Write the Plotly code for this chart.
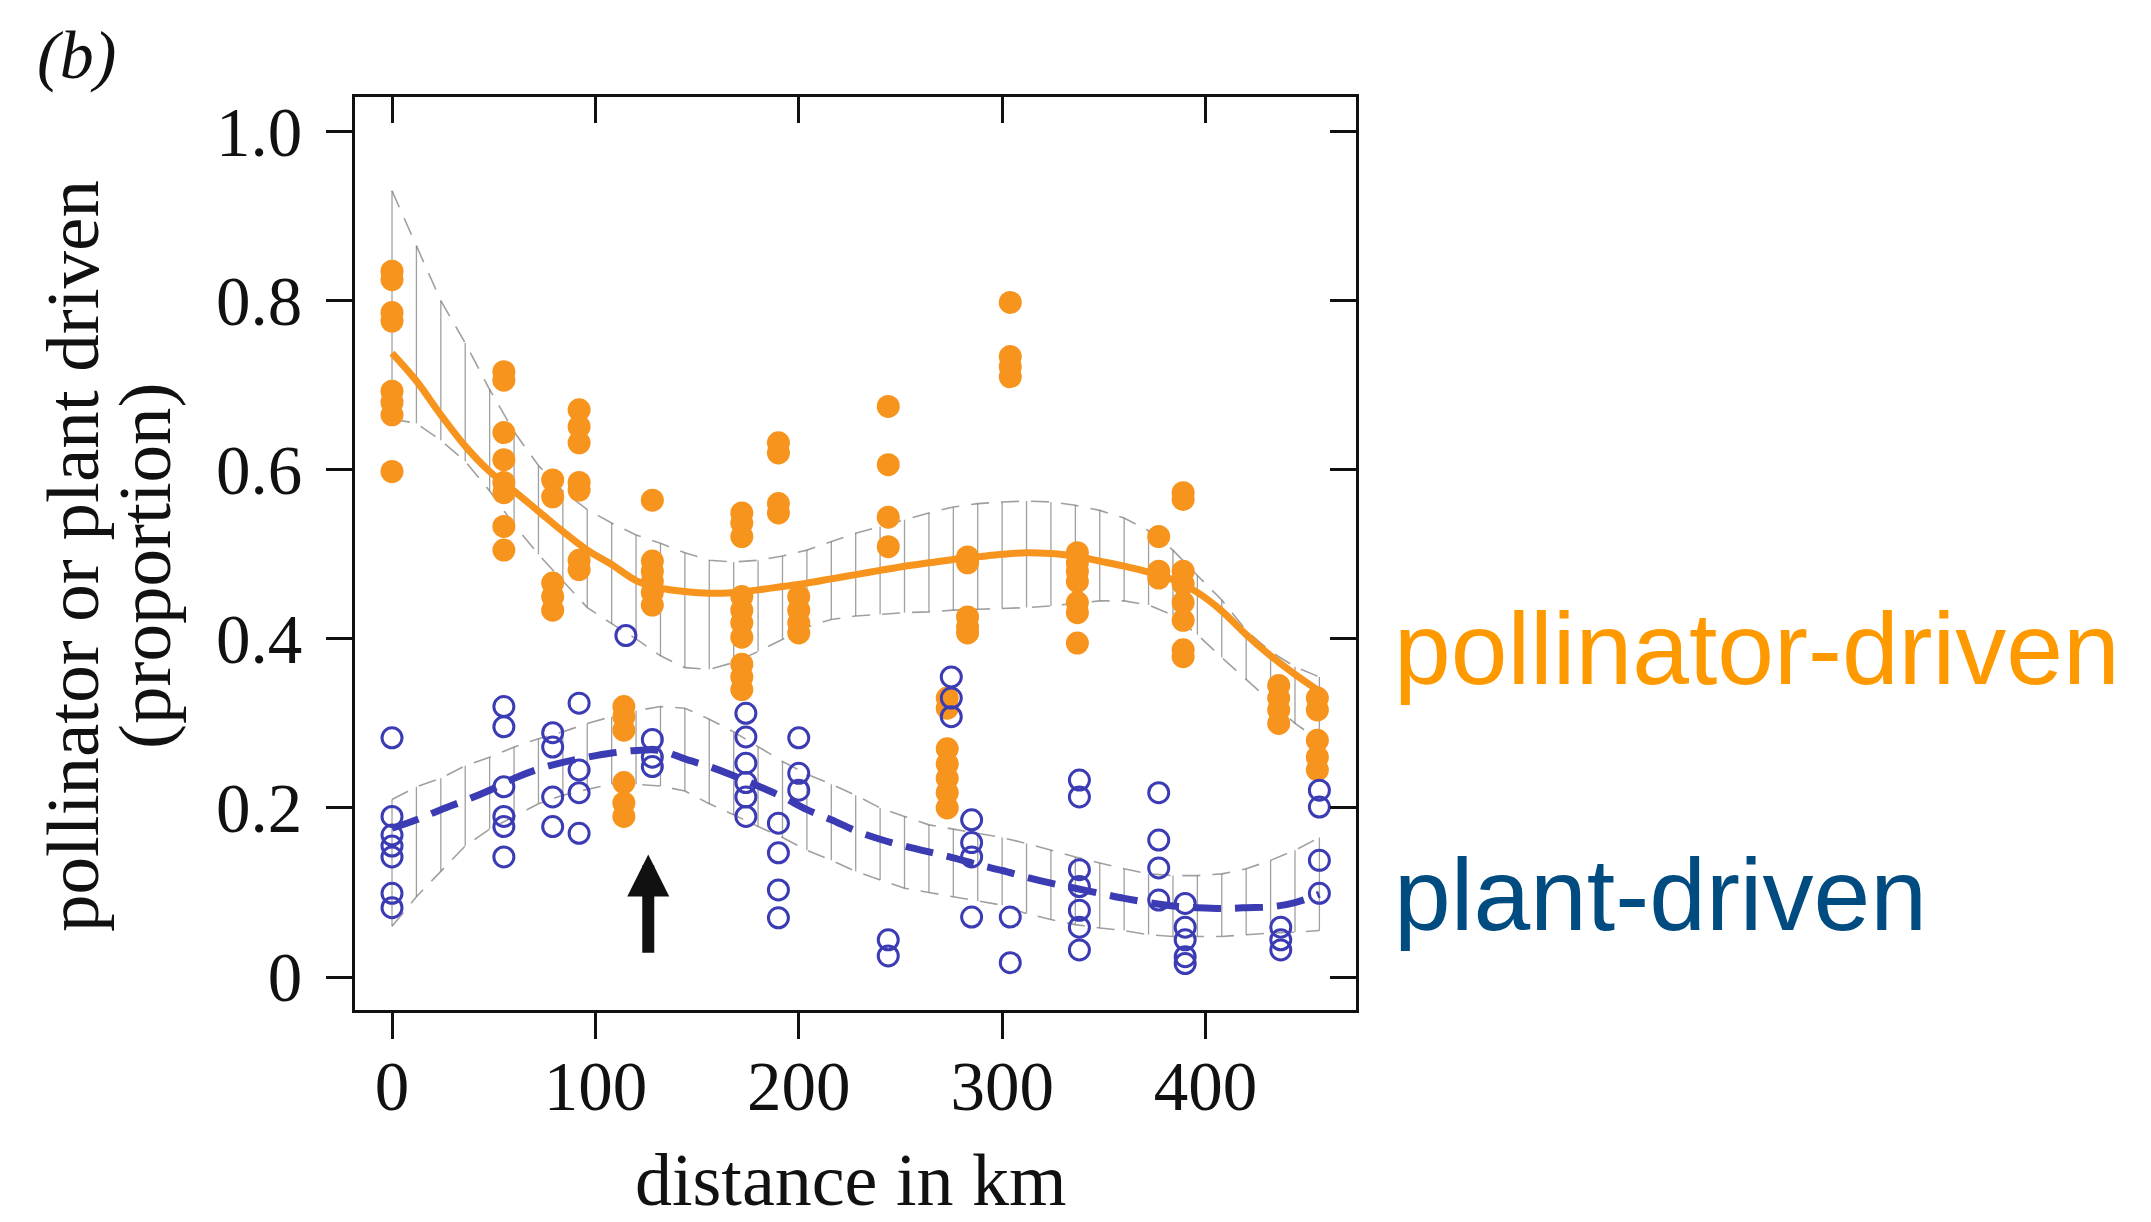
import plotly.graph_objects as go

# ---------------- data ----------------
grid_km = [0, 12, 24, 36, 48, 60, 72, 84, 96, 108, 120, 132, 144, 156, 168, 180, 192,
           204, 216, 228, 240, 252, 264, 276, 288, 300, 312, 324, 336, 348, 360, 372,
           384, 396, 408, 420, 432, 444, 456]

poll_fit = [0.738, 0.705, 0.665, 0.628, 0.598, 0.575, 0.551, 0.527, 0.505, 0.488, 0.469,
            0.460, 0.456, 0.454, 0.455, 0.458, 0.462, 0.466, 0.471, 0.476, 0.481, 0.486,
            0.490, 0.494, 0.497, 0.500, 0.502, 0.501, 0.498, 0.492, 0.486, 0.479, 0.470,
            0.455, 0.433, 0.405, 0.380, 0.358, 0.338]
poll_hi = [0.930, 0.865, 0.800, 0.750, 0.695, 0.645, 0.605, 0.575, 0.553, 0.537, 0.523,
           0.513, 0.502, 0.493, 0.491, 0.493, 0.498, 0.505, 0.515, 0.525, 0.533, 0.541,
           0.549, 0.556, 0.560, 0.562, 0.563, 0.562, 0.558, 0.552, 0.543, 0.528, 0.505,
           0.475, 0.446, 0.410, 0.385, 0.367, 0.355]
poll_lo = [0.660, 0.655, 0.635, 0.610, 0.575, 0.535, 0.500, 0.468, 0.437, 0.418, 0.400,
           0.380, 0.366, 0.364, 0.372, 0.385, 0.400, 0.414, 0.423, 0.427, 0.429, 0.431,
           0.432, 0.434, 0.435, 0.436, 0.437, 0.439, 0.442, 0.445, 0.445, 0.440, 0.428,
           0.405, 0.378, 0.352, 0.325, 0.300, 0.280]

plant_fit = [0.176, 0.186, 0.198, 0.209, 0.221, 0.235, 0.246, 0.254, 0.260, 0.265, 0.268,
             0.268, 0.258, 0.249, 0.238, 0.226, 0.213, 0.198, 0.186, 0.173, 0.163, 0.155,
             0.148, 0.141, 0.133, 0.126, 0.118, 0.111, 0.105, 0.099, 0.093, 0.088, 0.084,
             0.082, 0.081, 0.082, 0.083, 0.088, 0.098]
plant_hi = [0.210, 0.225, 0.235, 0.250, 0.260, 0.272, 0.282, 0.290, 0.300, 0.308, 0.315,
            0.320, 0.318, 0.305, 0.290, 0.272, 0.255, 0.240, 0.228, 0.215, 0.200, 0.190,
            0.180, 0.175, 0.170, 0.165, 0.158, 0.150, 0.142, 0.135, 0.128, 0.122, 0.120,
            0.120, 0.122, 0.128, 0.138, 0.150, 0.165]
plant_lo = [0.060, 0.095, 0.125, 0.155, 0.175, 0.190, 0.205, 0.215, 0.222, 0.228, 0.228,
            0.226, 0.220, 0.205, 0.192, 0.178, 0.165, 0.150, 0.138, 0.125, 0.115, 0.105,
            0.100, 0.095, 0.090, 0.085, 0.075, 0.068, 0.062, 0.058, 0.055, 0.050, 0.048,
            0.048, 0.048, 0.050, 0.052, 0.053, 0.055]

poll_sites = [0, 55, 79, 92, 114, 128, 172, 190, 200, 244, 273, 283, 304, 337, 377, 389, 436, 455]
poll_values = [
    [0.835, 0.825, 0.786, 0.776, 0.693, 0.680, 0.665, 0.598],
    [0.716, 0.706, 0.644, 0.612, 0.585, 0.573, 0.533, 0.505],
    [0.588, 0.568, 0.466, 0.450, 0.434],
    [0.671, 0.651, 0.632, 0.585, 0.576, 0.493, 0.482],
    [0.320, 0.308, 0.292, 0.230, 0.206, 0.190],
    [0.564, 0.492, 0.480, 0.468, 0.455, 0.440],
    [0.549, 0.537, 0.521, 0.450, 0.434, 0.419, 0.402, 0.370, 0.355, 0.340],
    [0.632, 0.620, 0.560, 0.549],
    [0.450, 0.434, 0.419, 0.407],
    [0.675, 0.606, 0.544, 0.509],
    [0.330, 0.318, 0.270, 0.252, 0.235, 0.218, 0.200],
    [0.497, 0.490, 0.426, 0.414, 0.407],
    [0.798, 0.734, 0.722, 0.710],
    [0.502, 0.490, 0.480, 0.468, 0.443, 0.431, 0.395],
    [0.521, 0.480, 0.472],
    [0.573, 0.565, 0.480, 0.465, 0.443, 0.422, 0.387, 0.379],
    [0.345, 0.330, 0.316, 0.300],
    [0.330, 0.316, 0.280, 0.260, 0.245],
]

plant_sites = [0, 55, 79, 92, 115, 128, 174, 190, 200, 244, 275, 285, 304, 338, 377, 390, 437, 456]
plant_values = [
    [0.283, 0.190, 0.168, 0.155, 0.142, 0.099, 0.082],
    [0.320, 0.296, 0.225, 0.190, 0.178, 0.142],
    [0.289, 0.272, 0.213, 0.178],
    [0.324, 0.245, 0.218, 0.170],
    [0.404],
    [0.281, 0.260, 0.249],
    [0.312, 0.284, 0.253, 0.230, 0.213, 0.190],
    [0.182, 0.147, 0.103, 0.070],
    [0.283, 0.241, 0.221],
    [0.044, 0.025],
    [0.355, 0.330, 0.308],
    [0.186, 0.159, 0.142, 0.071],
    [0.071, 0.017],
    [0.233, 0.213, 0.127, 0.107, 0.079, 0.059, 0.032],
    [0.218, 0.162, 0.129, 0.091],
    [0.087, 0.059, 0.044, 0.024, 0.016],
    [0.059, 0.044, 0.032],
    [0.221, 0.201, 0.138, 0.099],
]

x_ticks = [0, 100, 200, 300, 400]
x_tick_text = ["0", "100", "200", "300", "400"]
y_ticks = [0, 0.2, 0.4, 0.6, 0.8, 1.0]
y_tick_text = ["0", "0.2", "0.4", "0.6", "0.8", "1.0"]

arrow_km = 126
arrow_tip = 0.145
arrow_tail = 0.027

# ---------------- styling ----------------
W, H = 2151, 1222
L, R, T, B = 355, 1356, 97, 1010      # plot area in pixels
X_RANGE = [-18.2, 474]
Y_RANGE = [-0.039, 1.041]
SERIF = "Liberation Serif, Times New Roman, serif"
SANS = "Liberation Sans, Arial, Helvetica, sans-serif"
ORANGE = "#F7941D"
BLUE = "#3B3BB4"
BAND = "rgba(120,120,120,0.7)"


def px_to_paper(px, py):
    return (px - L) / (R - L), (B - py) / (B - T)


def flatten(sites, values):
    xs, ys = [], []
    for s, vals in zip(sites, values):
        for v in vals:
            xs.append(s)
            ys.append(v)
    return xs, ys


def hatch(xs, lo, hi):
    hx, hy = [], []
    for x, a, b in zip(xs, lo, hi):
        hx += [x, x, None]
        hy += [a, b, None]
    return hx, hy


fig = go.Figure()

# confidence bands (vertical hatching + dashed bounds)
for lo, hi in [(poll_lo, poll_hi), (plant_lo, plant_hi)]:
    hx, hy = hatch(grid_km, lo, hi)
    fig.add_trace(go.Scatter(x=hx, y=hy, mode="lines", line=dict(color=BAND, width=1.3),
                             hoverinfo="skip", showlegend=False))
    for bound in (lo, hi):
        fig.add_trace(go.Scatter(x=grid_km, y=bound, mode="lines",
                                 line=dict(color=BAND, width=1.6, dash="18px,12px"),
                                 hoverinfo="skip", showlegend=False))

# points
px_, py_ = flatten(poll_sites, poll_values)
fig.add_trace(go.Scatter(x=px_, y=py_, mode="markers", name="pollinator-driven",
                         marker=dict(color=ORANGE, size=23, line=dict(width=0)),
                         showlegend=False))
bx_, by_ = flatten(plant_sites, plant_values)
fig.add_trace(go.Scatter(x=bx_, y=by_, mode="markers", name="plant-driven",
                         marker=dict(symbol="circle-open", color=BLUE, size=20,
                                     line=dict(width=3, color=BLUE)),
                         showlegend=False))

# fitted curves
fig.add_trace(go.Scatter(x=grid_km, y=poll_fit, mode="lines",
                         line=dict(color=ORANGE, width=7, shape="spline"),
                         showlegend=False))
fig.add_trace(go.Scatter(x=grid_km, y=plant_fit, mode="lines",
                         line=dict(color=BLUE, width=7, dash="28px,14px", shape="spline"),
                         showlegend=False))

# dummy trace for mirrored (inside) tick axes
fig.add_trace(go.Scatter(x=[None], y=[None], xaxis="x2", yaxis="y2",
                         showlegend=False, hoverinfo="skip"))

axis_common = dict(showgrid=False, zeroline=False,
                   tickfont=dict(family=SERIF, size=69, color="#111"),
                   ticklen=26, tickwidth=2.5, tickcolor="#111")

fig.update_layout(
    width=W, height=H,
    margin=dict(l=L, r=W - R, t=T, b=H - B, pad=0),
    paper_bgcolor="white", plot_bgcolor="white",
    showlegend=False,
    xaxis=dict(range=X_RANGE, tickvals=x_ticks, ticktext=x_tick_text, ticks="outside",
               showline=True, linewidth=3, linecolor="#111", mirror=True,
               ticklabelstandoff=-12, **axis_common),
    yaxis=dict(range=Y_RANGE, tickvals=y_ticks, ticktext=y_tick_text, ticks="outside",
               showline=True, linewidth=3, linecolor="#111", mirror=True,
               ticklabelstandoff=10, **axis_common),
    xaxis2=dict(range=X_RANGE, tickvals=x_ticks, ticks="inside", overlaying="x",
                side="top", anchor="y", showticklabels=False, showline=False,
                **axis_common),
    yaxis2=dict(range=Y_RANGE, tickvals=y_ticks, ticks="inside", overlaying="y",
                side="right", anchor="x", showticklabels=False, showline=False,
                **axis_common),
)

annotations = []


def add_text(text, px, py, font, xanchor="center", yanchor="middle", angle=0):
    ax_, ay_ = px_to_paper(px, py)
    annotations.append(dict(text=text, x=ax_, y=ay_, xref="paper", yref="paper",
                            xanchor=xanchor, yanchor=yanchor, showarrow=False,
                            textangle=angle, font=font))


add_text("distance in km", 851, 1180, dict(family=SERIF, size=74, color="#111"))
add_text("pollinator or plant driven", 72, 556, dict(family=SERIF, size=75, color="#111"), angle=-90)
add_text("(proportion)", 144, 566, dict(family=SERIF, size=75, color="#111"), angle=-90)
add_text("<i>(b)</i>", 76, 55, dict(family=SERIF, size=68, color="#111"))
add_text("pollinator-driven", 1392, 649, dict(family=SANS, size=102, color="#FF9900"),
         xanchor="left")
add_text("plant-driven", 1392, 895, dict(family=SANS, size=102, color="#004B7F"),
         xanchor="left")

annotations.append(dict(x=arrow_km, y=arrow_tip, ax=arrow_km, ay=arrow_tail,
                        xref="x", yref="y", axref="x", ayref="y", text="",
                        showarrow=True, arrowhead=2, arrowsize=0.7, arrowwidth=12,
                        arrowcolor="#111"))

fig.update_layout(annotations=annotations)

fig.write_html("out.html")
